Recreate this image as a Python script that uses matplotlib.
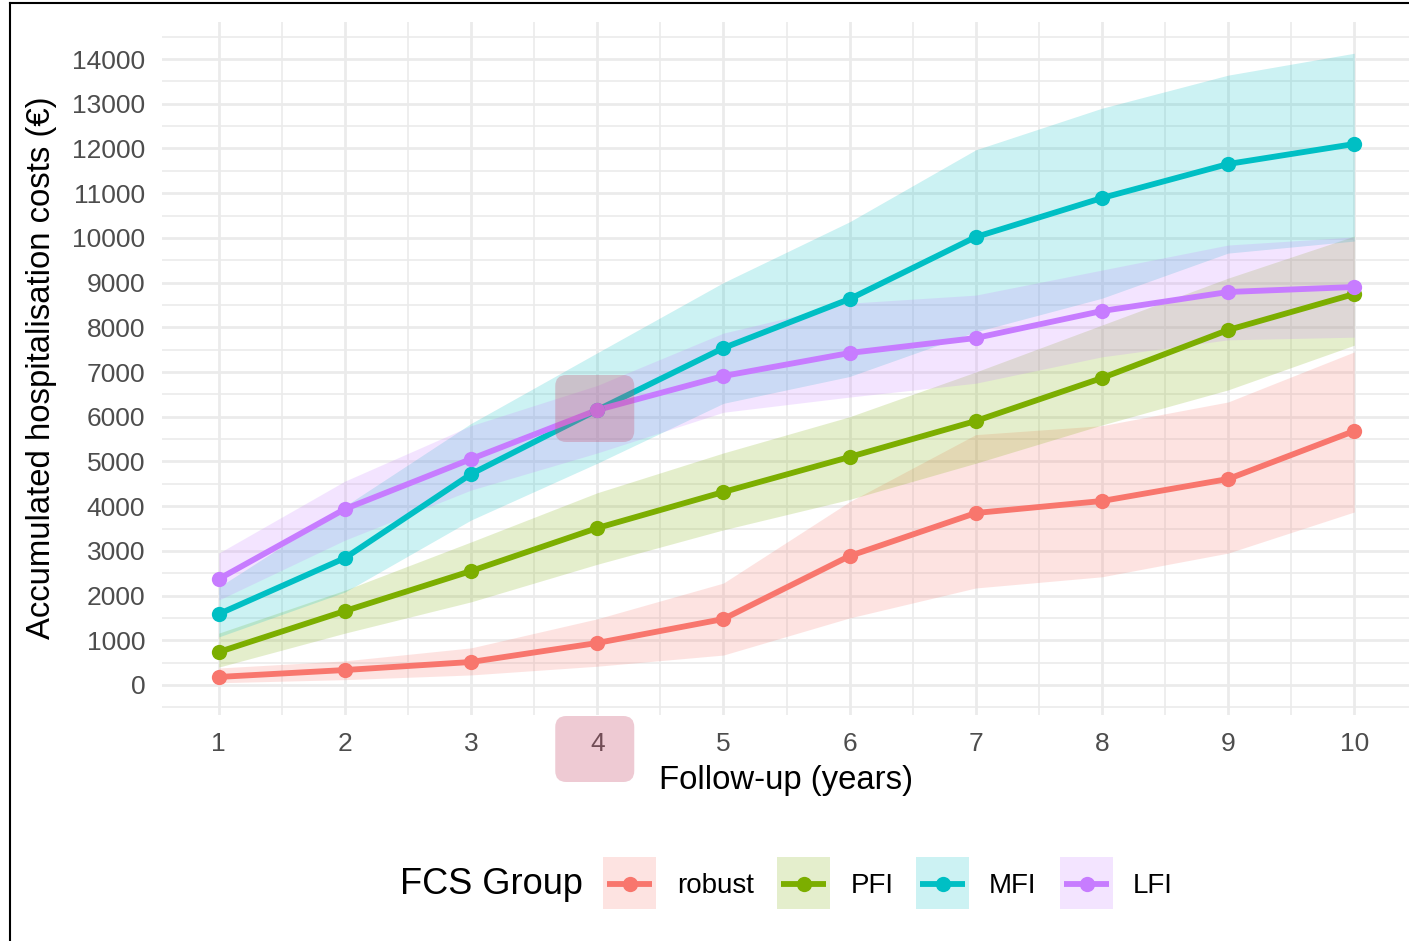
import matplotlib
matplotlib.use("Agg")
import matplotlib.pyplot as plt
from matplotlib.patches import FancyBboxPatch, Rectangle
from matplotlib.lines import Line2D
from matplotlib.ticker import MultipleLocator

plt.rcParams['font.family'] = ['Liberation Sans', 'DejaVu Sans']

years = [1, 2, 3, 4, 5, 6, 7, 8, 9, 10]
groups = ["robust", "PFI", "MFI", "LFI"]
colors = ["#F8766D", "#7CAE00", "#00BFC4", "#C77CFF"]

# mean accumulated costs per group
robust_mean = [180, 335, 515, 940, 1476, 2885, 3847, 4115, 4607, 5681]
pfi_mean = [738, 1655, 2550, 3511, 4317, 5100, 5905, 6866, 7940, 8745]
mfi_mean = [1588, 2840, 4719, 6151, 7537, 8633, 10020, 10892, 11653, 12100]
lfi_mean = [2371, 3937, 5055, 6151, 6911, 7426, 7761, 8365, 8790, 8902]

# confidence band bounds
robust_lo = [50, 120, 225, 420, 670, 1500, 2170, 2420, 2950, 3870]
robust_hi = [380, 540, 830, 1480, 2280, 4100, 5600, 5800, 6330, 7450]
pfi_lo = [400, 1160, 1860, 2700, 3470, 4150, 4960, 5815, 6600, 7600]
pfi_hi = [1160, 2120, 3200, 4300, 5190, 6000, 7000, 8050, 9100, 10040]
mfi_lo = [1075, 2080, 3690, 4960, 6300, 6900, 7900, 8650, 9660, 9930]
mfi_hi = [2190, 4000, 5850, 7430, 9000, 10360, 11970, 12900, 13640, 14130]
lfi_lo = [1900, 3240, 4360, 5190, 6100, 6440, 6750, 7340, 7720, 7780]
lfi_hi = [2950, 4560, 5800, 6700, 7870, 8540, 8720, 9280, 9840, 10020]

means = [robust_mean, pfi_mean, mfi_mean, lfi_mean]
lows = [robust_lo, pfi_lo, mfi_lo, lfi_lo]
highs = [robust_hi, pfi_hi, mfi_hi, lfi_hi]

W, H = 1409, 941
fig = plt.figure(figsize=(W / 100, H / 100), dpi=100)
fig.patch.set_facecolor("white")

# panel runs past the right edge of the canvas
ax = fig.add_axes([162 / W, 1 - 715 / H, 1249 / W, 693 / H])
ax.set_xlim(0.55, 10.45)
ax.set_ylim(-671, 14829)

for lo, hi, c in zip(lows, highs, colors):
    ax.fill_between(years, lo, hi, color=c, alpha=0.2, linewidth=0, zorder=2)
for m, c in zip(means, colors):
    ax.plot(years, m, color=c, lw=4.2, zorder=3, solid_capstyle="butt")
for m, c in zip(means, colors):
    ax.plot(years, m, "o", color=c, ms=11, mec="none", zorder=4)

ax.xaxis.set_major_locator(MultipleLocator(1))
ax.xaxis.set_minor_locator(MultipleLocator(0.5))
ax.yaxis.set_major_locator(MultipleLocator(1000))
ax.yaxis.set_minor_locator(MultipleLocator(500))
ax.grid(which="major", color="#EBEBEB", lw=2.0, zorder=0)
ax.grid(which="minor", color="#EBEBEB", lw=1.2, zorder=0)
ax.set_axisbelow(True)
for s in ax.spines.values():
    s.set_visible(False)
ax.tick_params(which="both", length=0)
ax.tick_params(axis="y", pad=12, labelsize=19, labelcolor="#4D4D4D")
ax.tick_params(axis="x", pad=12, labelsize=19, labelcolor="#4D4D4D")

ax.set_xlabel("Follow-up (years)", fontsize=23.7, color="black")
ax.set_ylabel("Accumulated hospitalisation costs (€)", fontsize=23.7, color="black")
ax.xaxis.set_label_coords((786 - 162) / 1249, (715 - 781) / 693)
ax.xaxis.label.set_va("center")
ax.yaxis.set_label_coords((42 - 162) / 1249, (715 - 368) / 693)
ax.yaxis.label.set_va("center")

# highlight boxes around year 4
fig.canvas.draw()
px, py = ax.transData.transform((4, lfi_mean[3]))
hl = dict(boxstyle="round,pad=0,rounding_size=11", facecolor="#C8506E", alpha=0.3,
          edgecolor="none", transform=None, zorder=5)
fig.add_artist(FancyBboxPatch((px - 42, py - 32), 79, 67, **hl))
fig.add_artist(FancyBboxPatch((px - 42, H - 782), 79, 66, **hl))

# legend along the bottom
ly = 1 - 884 / H
fig.text(583 / W, ly, "FCS Group", fontsize=26, ha="right", va="center")
key_x = [603, 777, 916, 1060]
lab_x = [677, 851, 989, 1133]
for g, c, kx, tx in zip(groups, colors, key_x, lab_x):
    fig.add_artist(Rectangle((kx / W, 1 - 909 / H), 53 / W, 52 / H, transform=fig.transFigure,
                             facecolor=c, alpha=0.2, edgecolor="none"))
    fig.add_artist(Line2D([(kx + 4) / W, (kx + 49) / W], [ly, ly], transform=fig.transFigure,
                          color=c, lw=4.2, solid_capstyle="butt"))
    fig.add_artist(Line2D([(kx + 26.5) / W], [ly], transform=fig.transFigure,
                          marker="o", color=c, ms=11, mec="none"))
    fig.text(tx / W, ly - 2 / H, g, fontsize=20, ha="left", va="center")

# outer frame
fig.add_artist(Line2D([10 / W, 10 / W], [0, 1 - 3 / H], transform=fig.transFigure, color="black", lw=1.5))
fig.add_artist(Line2D([10 / W, 1], [1 - 3 / H, 1 - 3 / H], transform=fig.transFigure, color="black", lw=1.5))

fig.savefig("out.png", dpi=100)
